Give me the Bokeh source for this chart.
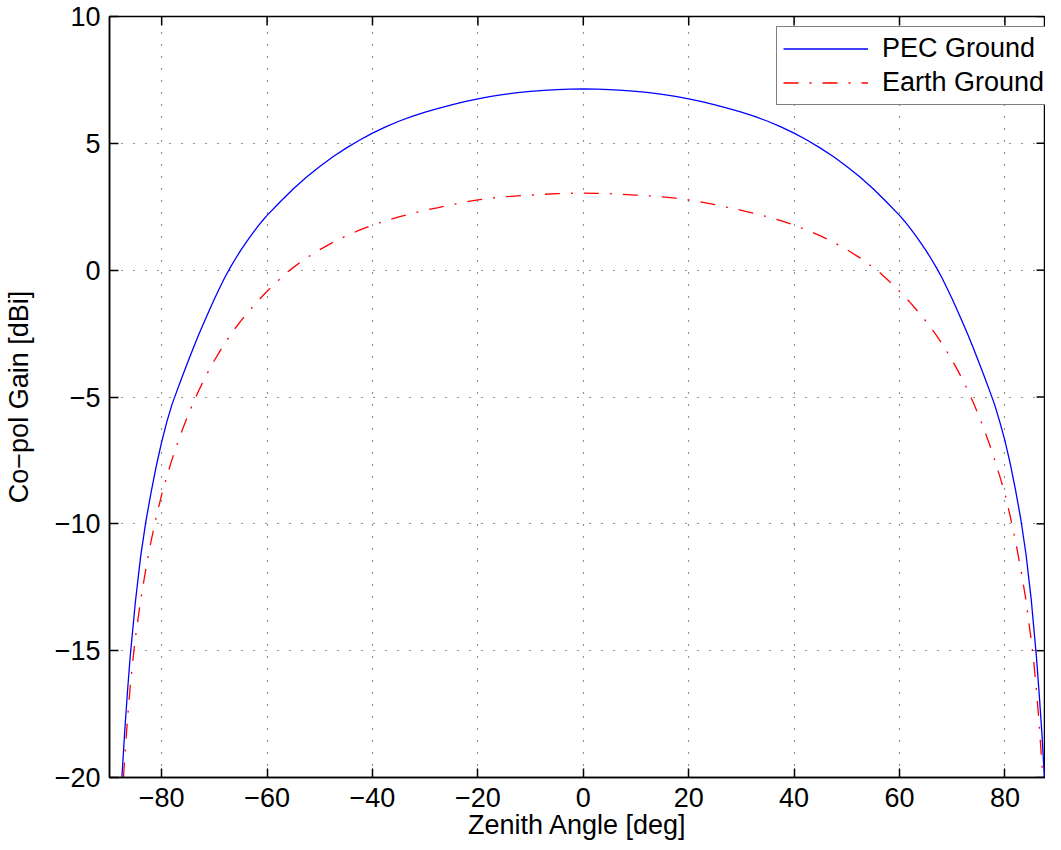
import math
from bokeh.plotting import figure
from bokeh.models import LinearAxis, FixedTicker, Range1d, Legend
from bokeh.embed import file_html
from bokeh.resources import INLINE

# ---- data ----
# PEC ground, left half (negative zenith angles) and right half
pec_theta_left = [-87.55, -87.0, -86.5, -86.0, -85.0, -84.0, -83.0, -82.0, -81.0, -80.0,
                  -79.0, -78.0, -77.0, -76.0, -75.0, -74.0, -73.0, -72.0, -71.0, -70.0,
                  -69.0, -68.0, -67.0, -66.0, -65.0, -64.0, -63.0, -62.0, -61.0, -60.0,
                  -57.5, -55.0, -52.5, -50.0, -47.5, -45.0, -42.5, -40.0, -37.5, -35.0,
                  -32.5, -30.0, -27.5, -25.0, -22.5, -20.0, -17.5, -15.0, -12.5, -10.0,
                  -7.5, -5.0, -2.5, 0.0]
pec_gain_left = [-20.0, -18.15, -16.65, -15.3, -13.1, -11.3, -9.9, -8.75, -7.7, -6.77,
                 -5.96, -5.27, -4.70, -4.14, -3.60, -3.07, -2.56, -2.07, -1.60, -1.14,
                 -0.70, -0.28, 0.10, 0.45, 0.78, 1.09, 1.38, 1.66, 1.92, 2.16,
                 2.70, 3.21, 3.67, 4.09, 4.47, 4.81, 5.12, 5.40, 5.65, 5.87,
                 6.06, 6.23, 6.38, 6.52, 6.64, 6.75, 6.85, 6.93, 7.00, 7.05,
                 7.09, 7.12, 7.14, 7.15]
pec_theta_right = [2.5, 5.0, 7.5, 10.0, 12.5, 15.0, 17.5, 20.0, 22.5, 25.0, 27.5, 30.0,
                   32.5, 35.0, 37.5, 40.0, 42.5, 45.0, 47.5, 50.0, 52.5, 55.0, 57.5, 60.0,
                   61.0, 62.0, 63.0, 64.0, 65.0, 66.0, 67.0, 68.0, 69.0, 70.0, 71.0, 72.0,
                   73.0, 74.0, 75.0, 76.0, 77.0, 78.0, 79.0, 80.0, 81.0, 82.0, 83.0, 84.0,
                   85.0, 86.0, 86.5, 87.0, 87.5]
pec_gain_right = [7.14, 7.12, 7.09, 7.05, 7.00, 6.93, 6.85, 6.75, 6.64, 6.52, 6.38, 6.23,
                  6.06, 5.87, 5.65, 5.40, 5.12, 4.81, 4.47, 4.09, 3.67, 3.21, 2.70, 2.16,
                  1.92, 1.66, 1.38, 1.09, 0.78, 0.45, 0.10, -0.28, -0.70, -1.14, -1.60, -2.07,
                  -2.56, -3.07, -3.60, -4.14, -4.70, -5.27, -5.96, -6.72, -7.62, -8.65, -9.8, -11.2,
                  -13.0, -15.3, -16.7, -18.2, -20.0]

# Earth ground, left half and right half
earth_theta_left = [-87.25, -87.0, -86.5, -86.0, -85.5, -85.0, -84.0, -83.0, -82.0, -81.0,
                    -80.0, -79.0, -78.0, -77.0, -76.0, -75.0, -74.0, -73.0, -72.0, -71.0,
                    -70.0, -69.0, -68.0, -67.0, -66.0, -65.0, -64.0, -63.0, -62.0, -61.0,
                    -60.0, -59.0, -58.0, -57.0, -56.0, -55.0, -52.5, -50.0, -47.5, -45.0,
                    -42.5, -40.0, -37.5, -35.0, -32.5, -30.0, -27.5, -25.0, -22.5, -20.0,
                    -17.5, -15.0, -12.5, -10.0, -7.5, -5.0, -2.5, 0.0]
earth_gain_left = [-20.0, -19.19, -17.74, -16.49, -15.44, -14.52, -13.02, -11.77, -10.67, -9.70,
                   -8.85, -8.11, -7.44, -6.82, -6.25, -5.72, -5.22, -4.76, -4.33, -3.93,
                   -3.56, -3.21, -2.88, -2.57, -2.28, -2.01, -1.75, -1.51, -1.27, -1.05,
                   -0.83, -0.63, -0.43, -0.24, -0.05, 0.11, 0.485, 0.81, 1.10, 1.35,
                   1.575, 1.775, 1.95, 2.10, 2.24, 2.36, 2.47, 2.58, 2.685, 2.77,
                   2.84, 2.89, 2.93, 2.96, 2.99, 3.015, 3.03, 3.04]
earth_theta_right = [2.5, 5.0, 7.5, 10.0, 12.5, 15.0, 17.5, 20.0, 22.5, 25.0, 27.5, 30.0,
                     32.5, 35.0, 37.5, 40.0, 42.5, 45.0, 47.5, 50.0, 52.5, 55.0, 56.0, 57.0,
                     58.0, 59.0, 60.0, 61.0, 62.0, 63.0, 64.0, 65.0, 66.0, 67.0, 68.0, 69.0,
                     70.0, 71.0, 72.0, 73.0, 74.0, 75.0, 76.0, 77.0, 78.0, 79.0, 80.0, 81.0,
                     82.0, 83.0, 84.0, 85.0, 85.5, 86.0, 86.5, 87.0, 87.2]
earth_gain_right = [3.03, 3.015, 2.99, 2.96, 2.93, 2.89, 2.84, 2.77, 2.685, 2.58, 2.47, 2.36,
                    2.24, 2.10, 1.95, 1.775, 1.575, 1.35, 1.10, 0.81, 0.485, 0.11, -0.05, -0.24,
                    -0.43, -0.63, -0.83, -1.05, -1.27, -1.51, -1.75, -2.01, -2.28, -2.57, -2.88, -3.21,
                    -3.56, -3.93, -4.33, -4.76, -5.22, -5.72, -6.25, -6.82, -7.44, -8.11, -8.80, -9.70,
                    -10.67, -11.77, -13.02, -14.6, -15.5, -16.6, -17.9, -19.4, -20.0]

x_ticks = [-80, -60, -40, -20, 0, 20, 40, 60, 80]
y_ticks = [-20, -15, -10, -5, 0, 5, 10]
series_labels = ["PEC Ground", "Earth Ground"]
x_label = "Zenith Angle [deg]"
y_label = "Co\u2212pol Gain [dBi]"

theta_pec = pec_theta_left + pec_theta_right
gain_pec = pec_gain_left + pec_gain_right
theta_earth = earth_theta_left + earth_theta_right
gain_earth = earth_gain_left + earth_gain_right

FONT = "Liberation Sans"
FS = "27px"
X0, X1 = -89.9, 87.7
Y0, Y1 = -20, 10


def lab(v):
    return ("\u2212" + str(abs(v))) if v < 0 else str(v)


p = figure(width=1045, height=848, output_backend="svg", toolbar_location=None,
           x_range=Range1d(X0, X1), y_range=Range1d(Y0, Y1),
           min_border_left=99, min_border_right=0, min_border_top=16, min_border_bottom=71,
           x_axis_location=None, y_axis_location=None)
p.background_fill_color = "white"
p.border_fill_color = "white"
p.outline_line_color = "black"
p.outline_line_width = 1.5

xt = FixedTicker(ticks=x_ticks, minor_ticks=[])
yt = FixedTicker(ticks=y_ticks, minor_ticks=[])


def style_axis(ax):
    ax.axis_line_color = "black"
    ax.axis_line_width = 1.5
    ax.major_tick_line_color = "black"
    ax.major_tick_line_width = 1.5
    ax.major_tick_in = 9
    ax.major_tick_out = 0
    ax.minor_tick_line_color = None
    ax.major_label_text_font = FONT
    ax.major_label_text_font_size = FS
    ax.major_label_text_color = "black"
    ax.axis_label_text_font = FONT
    ax.axis_label_text_font_size = FS
    ax.axis_label_text_font_style = "normal"
    ax.axis_label_text_color = "black"


xb = LinearAxis(ticker=xt, axis_label=x_label)
style_axis(xb)
xb.major_label_overrides = {v: lab(v) for v in x_ticks}
xb.major_label_standoff = 10
xb.axis_label_standoff = 0
p.add_layout(xb, "below")

yl = LinearAxis(ticker=yt, axis_label=y_label)
style_axis(yl)
yl.major_label_overrides = {v: lab(v) for v in y_ticks}
yl.major_label_standoff = 9
yl.axis_label_standoff = 18
p.add_layout(yl, "left")

# inward ticks on the top and right edges of the box
p.ray(x=x_ticks, y=[Y1] * len(x_ticks), length=9, length_units="screen",
      angle=-math.pi / 2, line_color="black", line_width=1.5)
p.ray(x=[X1] * len(y_ticks), y=y_ticks, length=9, length_units="screen",
      angle=math.pi, line_color="black", line_width=1.5)

p.xgrid.ticker = xt
p.ygrid.ticker = yt
p.grid.grid_line_color = "black"
p.grid.grid_line_alpha = 0.85
p.grid.grid_line_width = 1.2
p.grid.grid_line_dash = "1 11"

r1 = p.line(theta_pec, gain_pec, line_color="#0000ff", line_width=1.3)
r2 = p.line(theta_earth, gain_earth, line_color="#ff0000", line_width=1.3,
            line_dash="15 11 2 11")

legend = Legend(items=[(series_labels[0], [r1]), (series_labels[1], [r2])],
                location=(667, 672))
legend.label_text_font = FONT
legend.label_text_font_size = FS
legend.label_text_color = "black"
legend.glyph_width = 85
legend.glyph_height = 27
legend.label_height = 27
legend.label_standoff = 14
legend.padding = 6
legend.spacing = 3
legend.border_line_color = "black"
legend.border_line_width = 1.5
legend.background_fill_color = "white"
legend.background_fill_alpha = 1.0
legend.margin = 0
p.add_layout(legend, "center")

open("out.html", "w").write(file_html(p, INLINE))
